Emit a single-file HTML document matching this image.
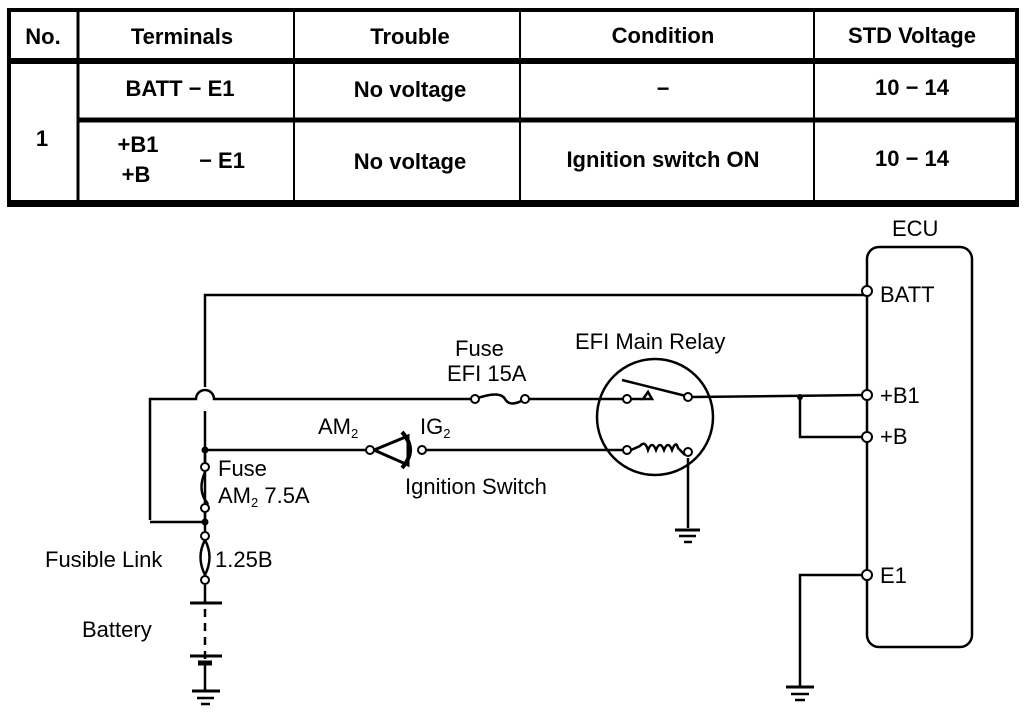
<!DOCTYPE html>
<html><head><meta charset="utf-8"><style>
html,body{margin:0;padding:0;background:#fff;}
svg{display:block;font-family:"Liberation Sans",Arial,sans-serif;}
</style></head><body>
<svg width="1024" height="712" viewBox="0 0 1024 712" xmlns="http://www.w3.org/2000/svg">
<g stroke="#000" fill="none">
<rect x="9" y="10" width="1008" height="195" stroke-width="4"/>
<line x1="9" y1="61" x2="1017" y2="61" stroke-width="6"/>
<line x1="78" y1="120" x2="1017" y2="120" stroke-width="5"/>
<line x1="9" y1="203" x2="1017" y2="203" stroke-width="6"/>
<line x1="78" y1="10" x2="78" y2="205" stroke-width="3"/>
<line x1="294" y1="10" x2="294" y2="205" stroke-width="2"/>
<line x1="520" y1="10" x2="520" y2="205" stroke-width="2"/>
<line x1="814" y1="10" x2="814" y2="205" stroke-width="2"/>
</g>
<g font-size="22" font-weight="bold" text-anchor="middle">
<text x="43" y="44">No.</text>
<text x="182" y="44">Terminals</text>
<text x="410" y="44">Trouble</text>
<text x="663" y="43">Condition</text>
<text x="912" y="43">STD Voltage</text>
<text x="180" y="96">BATT − E1</text>
<text x="410" y="97">No voltage</text>
<text x="663" y="96">−</text>
<text x="912" y="95">10 − 14</text>
<text x="42" y="146">1</text>
<text x="138" y="152">+B1</text>
<text x="136" y="182">+B</text>
<text x="222" y="168">− E1</text>
<text x="410" y="169">No voltage</text>
<text x="663" y="167">Ignition switch ON</text>
<text x="912" y="166">10 − 14</text>
</g>
<g stroke="#000" stroke-width="2.5" fill="none">
<rect x="867" y="247" width="105" height="400" rx="12"/>
<polyline points="205,520 205,411"/>
<path d="M205,387 L205,295 L867,295"/>
<path d="M150,520 L150,399 L196,399 A9,9 0 0 1 214,399 L475,399"/>
<path d="M475,399 Q500,390 505,399 Q510,408 525,399"/>
<line x1="525" y1="399" x2="625" y2="399"/>
<line x1="631" y1="399" x2="643" y2="399"/>
<path d="M643,399 L648,392 L652,399 Z"/>
<line x1="622" y1="380" x2="686" y2="396"/>
<line x1="692" y1="397" x2="867" y2="395"/>
<path d="M800,397 L800,437 L867,437"/>
<line x1="150" y1="522" x2="205" y2="522"/>
<line x1="205" y1="450" x2="366" y2="450"/>
<path d="M374,450 L408,436 L408,465 Z" stroke-width="3"/>
<path d="M402,432 Q418,450 402,468" stroke-width="4"/>
<line x1="426" y1="450" x2="625" y2="450"/>
<path d="M631,450 L640,446 Q645,440 648,450 Q652,440 656,450 Q660,440 664,450 Q668,440 672,450 Q676,440 678,448 L685,455"/>
<line x1="688" y1="458" x2="688" y2="528"/>
<circle cx="655" cy="417" r="58"/>
<line x1="205" y1="450" x2="205" y2="462"/>
<path d="M205,472 Q198,488 205,500 Q210,505 205,505"/>
<line x1="205" y1="512" x2="205" y2="531"/>
<path d="M205,540 Q196,557 205,575 M205,540 Q214,557 205,575"/>
<line x1="205" y1="585" x2="205" y2="602"/>
<line x1="190" y1="603" x2="222" y2="603" stroke-width="3"/>
<line x1="205" y1="609" x2="205" y2="660" stroke-dasharray="8,6"/>
<line x1="190" y1="656" x2="222" y2="656" stroke-width="3"/>
<line x1="198" y1="663" x2="212" y2="663" stroke-width="5"/>
<line x1="205" y1="663" x2="205" y2="690"/>
<line x1="192" y1="691" x2="220" y2="691" stroke-width="3"/>
<line x1="197" y1="698" x2="214" y2="698"/>
<line x1="201" y1="704" x2="210" y2="704"/>
<line x1="675" y1="530" x2="700" y2="530" stroke-width="3"/>
<line x1="679" y1="536" x2="696" y2="536"/>
<line x1="684" y1="542" x2="692" y2="542"/>
<path d="M867,575 L800,575 L800,686"/>
<line x1="786" y1="687" x2="814" y2="687" stroke-width="3"/>
<line x1="791" y1="694" x2="809" y2="694"/>
<line x1="795" y1="700" x2="805" y2="700"/>
</g>
<g fill="#000">
<circle cx="205" cy="450" r="3.5"/><circle cx="205" cy="522" r="3.5"/><circle cx="800" cy="397" r="3"/>
</g>
<g fill="#fff" stroke="#000" stroke-width="2">
<circle cx="867" cy="291" r="5"/><circle cx="867" cy="395" r="5"/><circle cx="867" cy="437" r="5"/><circle cx="867" cy="575" r="5"/>
<circle cx="475" cy="399" r="4"/><circle cx="525" cy="399" r="4"/>
<circle cx="627" cy="399" r="4"/><circle cx="688" cy="397" r="4"/>
<circle cx="627" cy="450" r="4"/><circle cx="688" cy="452" r="4"/>
<circle cx="370" cy="450" r="4"/><circle cx="422" cy="450" r="4"/>
<circle cx="205" cy="467" r="4"/><circle cx="205" cy="508" r="4"/>
<circle cx="205" cy="536" r="4"/><circle cx="205" cy="580" r="4"/>
</g>
<g font-size="22">
<text x="892" y="236">ECU</text>
<text x="880" y="302">BATT</text>
<text x="880" y="403">+B1</text>
<text x="880" y="444">+B</text>
<text x="880" y="583">E1</text>
<text x="455" y="356">Fuse</text>
<text x="447" y="381">EFI 15A</text>
<text x="575" y="349">EFI Main Relay</text>
<text x="318" y="434">AM<tspan font-size="13" dy="4">2</tspan></text>
<text x="420" y="434">IG<tspan font-size="13" dy="4">2</tspan></text>
<text x="405" y="494">Ignition Switch</text>
<text x="218" y="476">Fuse</text>
<text x="218" y="503">AM<tspan font-size="13" dy="4">2</tspan><tspan dy="-4"> 7.5A</tspan></text>
<text x="45" y="567">Fusible Link</text>
<text x="215" y="567">1.25B</text>
<text x="82" y="637">Battery</text>
</g>
</svg>
</body></html>
